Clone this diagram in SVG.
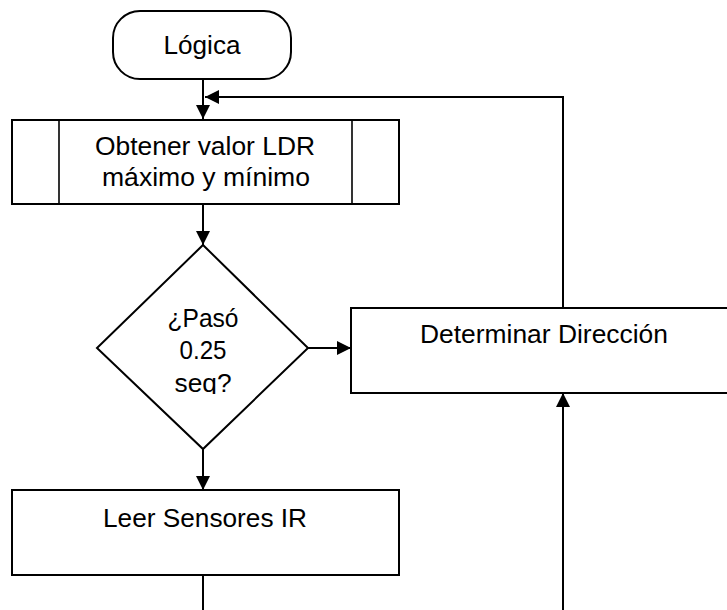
<svg xmlns="http://www.w3.org/2000/svg" width="727" height="610" viewBox="0 0 727 610">
<style>
.shape{fill:#fff;stroke:#000;stroke-width:2}
.thin{fill:none;stroke:#000;stroke-width:1.6}
.conn{fill:none;stroke:#000;stroke-width:2}
.lbl{font-family:"Liberation Sans",Arial,sans-serif;font-size:26.5px;fill:#000;text-anchor:middle}
</style>
<defs>
<marker id="arr" viewBox="0 0 10 10" refX="10" refY="5" markerWidth="14" markerHeight="14" markerUnits="userSpaceOnUse" orient="auto">
<path d="M0,0 L10,5 L0,10 Z" fill="#000"/>
</marker>
<clipPath id="dclip"><rect x="90" y="240" width="230" height="154"/></clipPath>
</defs>
<rect width="727" height="610" fill="#fff"/>
<g id="connectors">
<path class="conn" d="M203,79 V119" marker-end="url(#arr)"/>
<path class="conn" d="M563,308 V97 H205" marker-end="url(#arr)"/>
<path class="conn" d="M203,204 V245" marker-end="url(#arr)"/>
<path class="conn" d="M308,348 H351" marker-end="url(#arr)"/>
<path class="conn" d="M203,449 V490" marker-end="url(#arr)"/>
<path class="conn" d="M203,575 V610"/>
<path class="conn" d="M563,610 V393" marker-end="url(#arr)"/>
</g>
<g id="n-logica">
<rect class="shape" x="113" y="11" width="178" height="68" rx="27" ry="27"/>
<text class="lbl" x="202" y="54" textLength="77" lengthAdjust="spacingAndGlyphs">Lógica</text>
</g>
<g id="n-obtener">
<rect class="shape" x="12" y="120" width="387" height="84"/>
<line class="thin" x1="59" y1="120" x2="59" y2="204"/>
<line class="thin" x1="352" y1="120" x2="352" y2="204"/>
<text class="lbl" x="205" y="155" textLength="220" lengthAdjust="spacingAndGlyphs">Obtener valor LDR</text>
<text class="lbl" x="206" y="186" textLength="208" lengthAdjust="spacingAndGlyphs">máximo y mínimo</text>
</g>
<g id="n-paso">
<polygon class="shape" points="203,245 308,348 203,449 97,348"/>
<g clip-path="url(#dclip)">
<text class="lbl" x="203" y="327" textLength="71" lengthAdjust="spacingAndGlyphs">¿Pasó</text>
<text class="lbl" x="203" y="359" textLength="47" lengthAdjust="spacingAndGlyphs">0.25</text>
<text class="lbl" x="203" y="392" textLength="57" lengthAdjust="spacingAndGlyphs">seq?</text>
</g>
</g>
<g id="n-determinar">
<rect class="shape" x="351" y="308" width="390" height="85"/>
<text class="lbl" x="544" y="343" textLength="248" lengthAdjust="spacingAndGlyphs">Determinar Dirección</text>
</g>
<g id="n-leer">
<rect class="shape" x="12" y="490" width="387" height="85"/>
<text class="lbl" x="205" y="527" textLength="204" lengthAdjust="spacingAndGlyphs">Leer Sensores IR</text>
</g>
</svg>
